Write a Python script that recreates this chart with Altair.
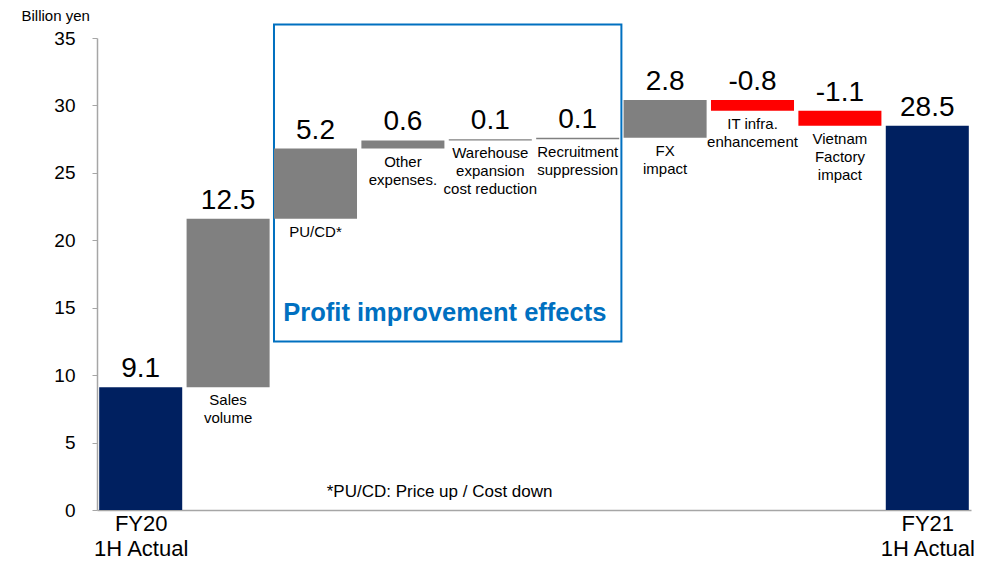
import altair as alt
import pandas as pd

# ---- data ----
steps = ["FY20 1H Actual", "Sales volume", "PU/CD", "Other expenses",
         "Warehouse expansion cost reduction", "Recruitment suppression",
         "FX impact", "IT infra. enhancement", "Vietnam Factory impact",
         "FY21 1H Actual"]
values = [9.1, 12.5, 5.2, 0.6, 0.1, 0.1, 2.8, -0.8, -1.1, 28.5]
kinds = ["total", "increase", "increase", "increase", "increase", "increase",
         "increase", "decrease", "decrease", "total"]
under_labels = ["", "Sales\nvolume", "PU/CD*", "Other\nexpenses.",
                "Warehouse\nexpansion\ncost reduction", "Recruitment\nsuppression",
                "FX\nimpact", "IT infra.\nenhancement", "Vietnam\nFactory\nimpact", ""]
axis_labels = {0: ["FY20", "1H Actual"], 9: ["FY21", "1H Actual"]}
y_ticks = [0, 5, 10, 15, 20, 25, 30, 35]
box_first, box_last = 2, 5          # bars inside the "Profit improvement effects" box
box_title = "Profit improvement effects"
footnote = "*PU/CD: Price up / Cost down"
unit_label = "Billion yen"

# ---- build table ----
rows = []
cum = 0.0
half = 0.475
for i, (s, v, k, u) in enumerate(zip(steps, values, kinds, under_labels)):
    if k == "total":
        start, end = 0.0, v
        cum = v
    else:
        start, end = cum, cum + v
        cum = end
    rows.append(dict(idx=i, step=s, kind=k, x0=i - half, x1=i + half,
                     bottom=min(start, end), top=max(start, end),
                     label=f"{v:.1f}", under=u))
df = pd.DataFrame(rows)

FONT = "Liberation Sans"
xscale = alt.Scale(domain=[-0.5, len(steps) - 0.5], nice=False, zero=False)
yscale = alt.Scale(domain=[0, 35], nice=False)

parts = [f"datum.value == {k} ? [{', '.join(repr(t) for t in v)}]" for k, v in axis_labels.items()]
label_expr = " : ".join(parts) + " : ''"

x_axis = alt.Axis(values=list(axis_labels.keys()), labelExpr=label_expr, ticks=False,
                  grid=False, domainColor="#A6A6A6", domainWidth=1.5, labelFontSize=22,
                  labelLineHeight=25, labelPadding=3, labelColor="black", title=None,
                  labelFont=FONT)
y_axis = alt.Axis(values=y_ticks, grid=False, domainColor="#A6A6A6", domainWidth=1.5,
                  tickColor="#A6A6A6", tickSize=5, labelFontSize=19, labelPadding=17,
                  labelColor="black", labelFont=FONT,
                  title=unit_label, titleAngle=0, titleAlign="left", titleBaseline="middle",
                  titleX=-76, titleY=-23, titleFontSize=15, titleFontWeight="normal",
                  titleFont=FONT, titleColor="black")

base = alt.Chart(df)

bars = base.mark_rect().encode(
    x=alt.X("x0:Q", scale=xscale, axis=x_axis),
    x2="x1:Q",
    y=alt.Y("bottom:Q", scale=yscale, axis=y_axis),
    y2="top:Q",
    color=alt.Color("kind:N", scale=alt.Scale(domain=["total", "increase", "decrease"],
                                              range=["#002060", "#808080", "#FF0000"]),
                    legend=None),
)

value_text = base.mark_text(fontSize=28, font=FONT, baseline="alphabetic", dy=-10,
                            color="black").encode(
    x=alt.X("idx:Q", scale=xscale, axis=x_axis),
    y=alt.Y("top:Q", scale=yscale, axis=y_axis),
    text="label:N",
)

under_text = base.mark_text(fontSize=15, font=FONT, baseline="top", dy=6,
                            lineBreak="\n", lineHeight=18, color="black").encode(
    x=alt.X("idx:Q", scale=xscale, axis=x_axis),
    y=alt.Y("bottom:Q", scale=yscale, axis=y_axis),
    text="under:N",
)

box = alt.Chart(df).mark_rect(fill=None, stroke="#0070C0", strokeWidth=2).encode(
    x=alt.X(datum=box_first - half, scale=xscale, axis=x_axis),
    x2=alt.X2(datum=box_last + 0.5),
    y=alt.Y(datum=12.5, scale=yscale, axis=y_axis),
    y2=alt.Y2(datum=36),
).transform_filter("datum.idx == 0")

box_text = alt.Chart(df).mark_text(fontSize=25.5, fontWeight="bold", font=FONT,
                                   color="#0070C0", baseline="middle").encode(
    x=alt.X(datum=(box_first + box_last) / 2 - 0.02, scale=xscale, axis=x_axis),
    y=alt.Y(datum=14.6, scale=yscale, axis=y_axis),
    text=alt.value(box_title),
).transform_filter("datum.idx == 0")

foot_text = alt.Chart(df).mark_text(fontSize=17, font=FONT, color="black",
                                    baseline="middle").encode(
    x=alt.X(datum=3.42, scale=xscale, axis=x_axis),
    y=alt.Y(datum=1.3, scale=yscale, axis=y_axis),
    text=alt.value(footnote),
).transform_filter("datum.idx == 0")

chart = alt.layer(box, bars, value_text, under_text, box_text, foot_text).properties(
    width=874, height=472,
    autosize=alt.AutoSizeParams(type="none"),
    padding={"left": 89, "top": 30, "right": 3, "bottom": 51},
).configure(font=FONT).configure_view(stroke=None)

chart.save("out.html", embed_options={"renderer": "svg", "actions": False})
